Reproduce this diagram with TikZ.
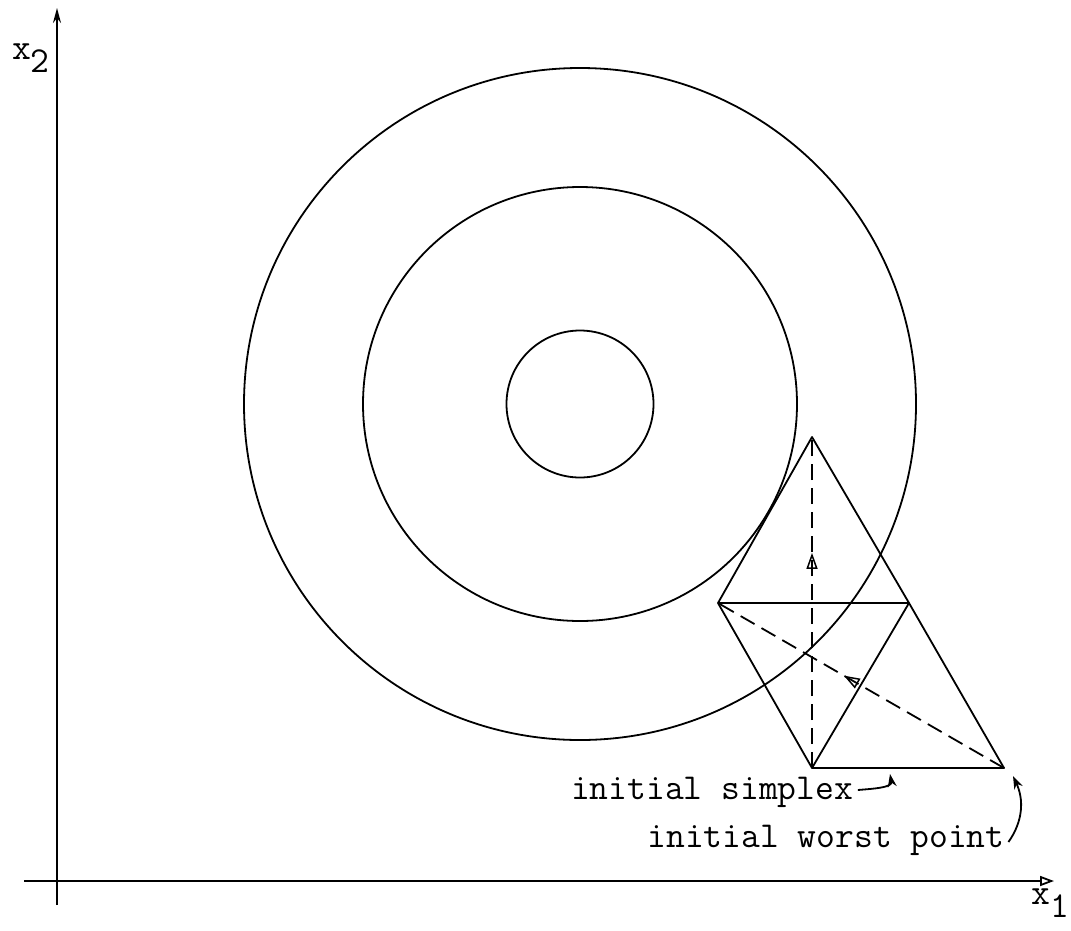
\documentclass[tikz,border=0pt]{standalone}
\usetikzlibrary{arrows.meta,decorations.markings}
\begin{document}
\begin{tikzpicture}[x=1pt,y=-1pt,line width=1.8pt,line join=round,
  ring/.style={circle,draw,inner sep=0pt},
  movedash/.style={dash pattern=on 16pt off 8pt,postaction={decorate}},
  lbl/.style={font=\ttfamily\fontsize{36.5}{40}\selectfont,inner sep=0pt},
  pointer/.style={-{Stealth[length=13pt,width=9pt]}},
  midhead/.style={decoration={markings,mark=at position #1 with {\arrow[solid,line width=1.5pt]{Triangle[open,length=16pt,width=11pt]}}}}]
\useasboundingbox (0,0) rectangle (1071,930);
% axes
\coordinate (ybot) at (57,905);
\coordinate (ytop) at (57,8);
\coordinate (xlft) at (24,881);
\coordinate (xrgt) at (1054,881);
\draw[-{Stealth[length=15pt,width=8pt]}] (ybot) -- (ytop);
\draw[-{Triangle[open,length=14pt,width=10pt]}] (xlft) -- (xrgt);
\node[lbl] (lx2) at (31,58) {x\raisebox{-13pt}{2}};
\node[lbl] (lx1) at (1050,903) {x\raisebox{-13pt}{1}};
% contours
\coordinate (ctr) at (580,404);
\node[ring,minimum size=147pt] (c1) at (ctr) {};
\node[ring,minimum size=434pt] (c2) at (ctr) {};
\node[ring,minimum size=672pt] (c3) at (ctr) {};
% simplex
\coordinate (T) at (812,437);
\coordinate (L) at (718,603);
\coordinate (R) at (909,603);
\coordinate (B) at (812,768);
\coordinate (W) at (1004,768);
\draw (B) -- (R) -- (T) -- (L) -- (B) -- (W) -- (R) -- (L);
\draw[movedash,midhead=0.65] (B) -- (T);
\draw[movedash,midhead=0.56] (W) -- (L);
% labels
\node[lbl] (simp) at (712,792) {initial simplex};
\node[lbl] (worst) at (826,840) {initial worst point};
\coordinate (sTip) at (890,774);
\coordinate (wTip) at (1013,776);
\draw[pointer] ([xshift=4pt,yshift=2pt]simp.east) to[out=5,in=-80] (sTip);
\draw[pointer] ([xshift=3pt,yshift=-2pt]worst.east) to[out=55,in=-65] (wTip);
\end{tikzpicture}
\end{document}
